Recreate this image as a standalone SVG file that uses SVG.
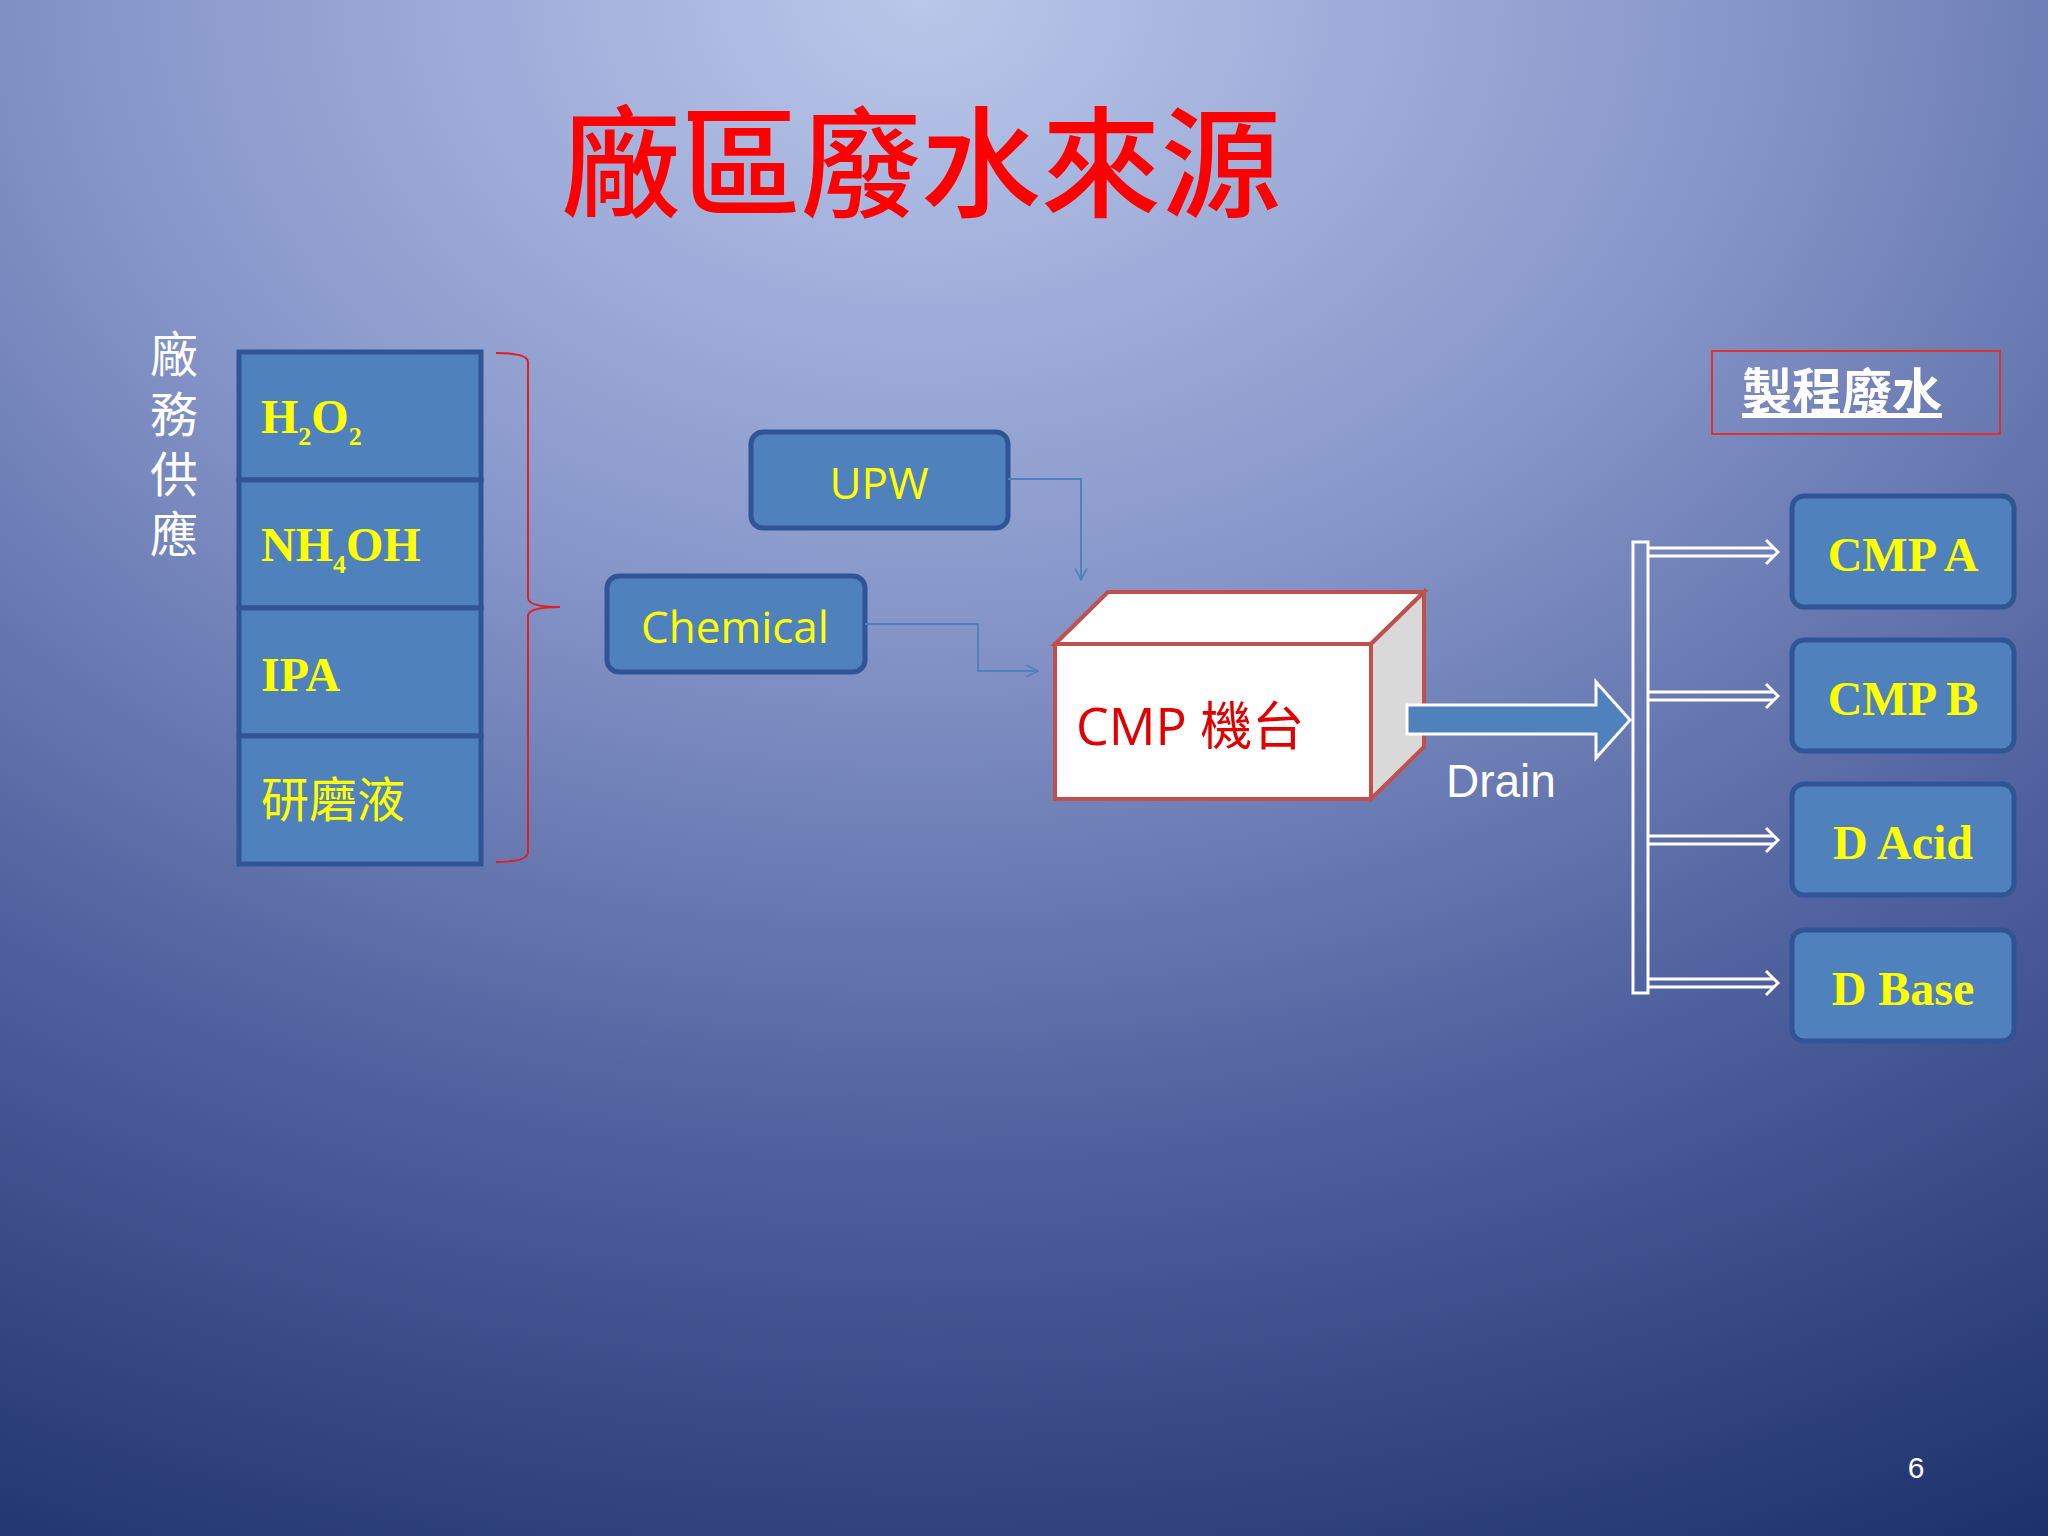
<svg xmlns="http://www.w3.org/2000/svg" width="2048" height="1536" viewBox="0 0 2048 1536">
<defs>
<radialGradient id="bg" cx="0.45" cy="0" r="1.15" gradientUnits="objectBoundingBox">
<stop offset="0" stop-color="#b9c7ea"/>
<stop offset="0.35" stop-color="#8696c9"/>
<stop offset="0.65" stop-color="#4f619e"/>
<stop offset="1" stop-color="#1c306c"/>
</radialGradient>
<marker id="open" viewBox="0 0 12 12" refX="11" refY="6" markerWidth="14" markerHeight="14" markerUnits="userSpaceOnUse" orient="auto">
<path d="M1,1 L11,6 L1,11" fill="none" stroke="#4f81bd" stroke-width="1.5"/>
</marker>
</defs>
<style>
.box{fill:#4f81bd;stroke:#2f5597;stroke-width:5}
.chem{font-family:"Liberation Serif",serif;font-weight:bold;font-size:48px;fill:#ffff00}
.cjk{font-family:"Noto Sans CJK TC",sans-serif}
.lbl{font-family:"Open Sans","Liberation Sans",sans-serif;font-size:44px;fill:#ffff00;text-anchor:middle}
.conn{fill:none;stroke:#4f81bd;stroke-width:2}
.bus{stroke:#fff;stroke-width:3;fill:none}
</style>
<rect width="2048" height="1536" fill="url(#bg)"/>
<text x="921" y="208" text-anchor="middle" class="cjk" font-size="120" font-weight="500" fill="#ff0000">廠區廢水來源</text>
<text id="side-label" x="174" y="330" class="cjk" font-size="48" fill="#fff" writing-mode="tb" letter-spacing="12">廠務供應</text>
<g id="supply">
<rect class="box" x="239" y="352" width="242" height="128"/>
<rect class="box" x="239" y="480" width="242" height="128"/>
<rect class="box" x="239" y="608" width="242" height="128"/>
<rect class="box" x="239" y="736" width="242" height="128"/>
<text class="chem" x="261" y="433">H<tspan font-size="26" dy="12">2</tspan><tspan dy="-12">O</tspan><tspan font-size="26" dy="12">2</tspan></text>
<text class="chem" x="261" y="561">NH<tspan font-size="26" dy="12">4</tspan><tspan dy="-12">OH</tspan></text>
<text class="chem" x="261" y="691">IPA</text>
<text class="cjk" x="261" y="817" font-size="48" fill="#ffff00">研磨液</text>
</g>
<path id="bracket" d="M496,353 Q528,353 528,362 L528,598 Q528,607 560,607 Q528,607 528,616 L528,852 Q528,862 496,862" fill="none" stroke="#e02020" stroke-width="2"/>
<g id="upw"><rect class="box" x="751" y="432" width="257" height="96" rx="12"/><text class="lbl" x="879" y="499">UPW</text></g>
<g id="chemical"><rect class="box" x="607" y="576" width="258" height="96" rx="12"/><text class="lbl" x="735" y="643">Chemical</text></g>
<g id="cmp">
<path d="M1055,644 L1108,592 L1424,592 L1371,644 Z" fill="#fff" stroke="#c0504d" stroke-width="4"/>
<path d="M1371,644 L1424,592 L1424,747 L1371,799 Z" fill="#d9d9d9" stroke="#c0504d" stroke-width="4"/>
<rect x="1055" y="644" width="316" height="155" fill="#fff" stroke="#c0504d" stroke-width="4"/>
<text x="1076" y="745" font-size="52" fill="#e00000" font-family="Open Sans,Noto Sans CJK TC,sans-serif">CMP 機台</text>
</g>
<g id="connectors">
<path class="conn" d="M1008,479 H1081 V580" marker-end="url(#open)"/>
<path class="conn" d="M865,624 H978 V671 H1038" marker-end="url(#open)"/>
<path d="M1407,705 H1596 V682 L1630,720 L1596,758 V734 H1407 Z" fill="#4f81bd" stroke="#fff" stroke-width="3"/>
<rect x="1633" y="542" width="15" height="451" fill="none" stroke="#fff" stroke-width="3"/>
<g class="bus">
<path d="M1648,548 H1774 M1648,556 H1774"/><path d="M1766,540 L1778,552 L1766,564"/>
<path d="M1648,692 H1774 M1648,700 H1774"/><path d="M1766,684 L1778,696 L1766,708"/>
<path d="M1648,836 H1774 M1648,844 H1774"/><path d="M1766,828 L1778,840 L1766,852"/>
<path d="M1648,979 H1774 M1648,987 H1774"/><path d="M1766,971 L1778,983 L1766,995"/>
</g>
</g>
<text x="1446" y="797" font-size="46" fill="#fff" font-family="Liberation Sans,sans-serif">Drain</text>
<g id="proc-label">
<rect x="1712" y="351" width="288" height="83" fill="none" stroke="#e03030" stroke-width="2"/>
<text x="1842" y="410" text-anchor="middle" class="cjk" font-size="50" font-weight="bold" fill="#fff" text-decoration="underline">製程廢水</text>
</g>
<g id="outputs">
<rect class="box" x="1792" y="496" width="222" height="111" rx="12"/><text class="chem" x="1903" y="571" text-anchor="middle">CMP A</text>
<rect class="box" x="1792" y="640" width="222" height="111" rx="12"/><text class="chem" x="1903" y="715" text-anchor="middle">CMP B</text>
<rect class="box" x="1792" y="784" width="222" height="111" rx="12"/><text class="chem" x="1903" y="859" text-anchor="middle">D Acid</text>
<rect class="box" x="1792" y="930" width="222" height="111" rx="12"/><text class="chem" x="1903" y="1005" text-anchor="middle">D Base</text>
</g>
<text x="1916" y="1478" font-size="30" fill="#fff" text-anchor="middle" font-family="Liberation Sans,sans-serif">6</text>
</svg>
